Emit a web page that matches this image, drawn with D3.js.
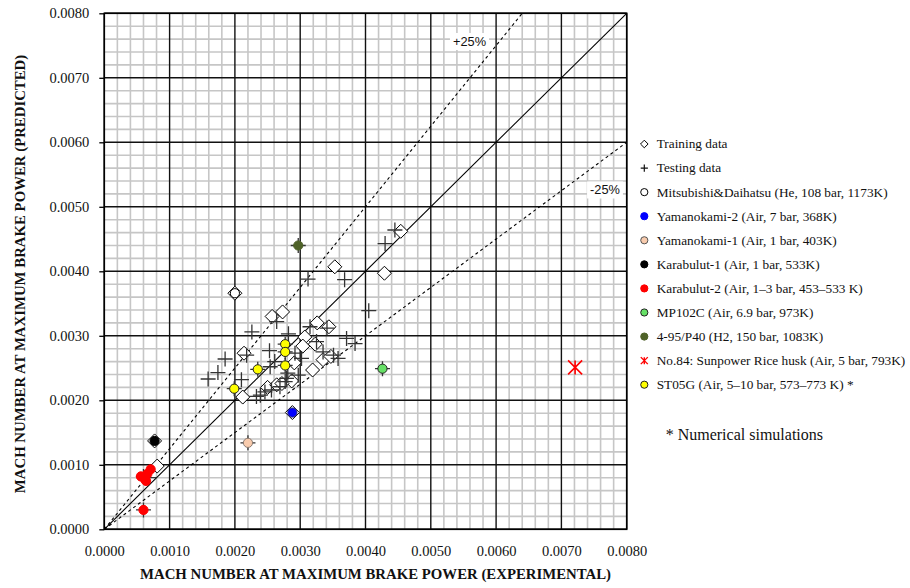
<!DOCTYPE html>
<html>
<head>
<meta charset="utf-8">
<script src="https://cdn.jsdelivr.net/npm/d3@7"></script>
<style>
  html, body { margin: 0; padding: 0; background: #fff; }
  svg { display: block; }
</style>
</head>
<body>
<svg id="chart" width="910" height="588"></svg>
<script>
// ---- data (Mach number at maximum brake power: [experimental, predicted]) ----
const majorTicks = [0, 0.001, 0.002, 0.003, 0.004, 0.005, 0.006, 0.007, 0.008];
const tickLabels = ["0.0000", "0.0010", "0.0020", "0.0030", "0.0040", "0.0050", "0.0060", "0.0070", "0.0080"];

const trainingData = [
  [0.00081, 0.00098], [0.00077, 0.00137], [0.00200, 0.00366], [0.00214, 0.00273],
  [0.00212, 0.00205], [0.00257, 0.00330], [0.00273, 0.00337], [0.00353, 0.00407],
  [0.00429, 0.00397], [0.00454, 0.00462], [0.00326, 0.00320], [0.00344, 0.00314],
  [0.00307, 0.00298], [0.00304, 0.00284], [0.00323, 0.00287], [0.00291, 0.00258],
  [0.00319, 0.00247], [0.00335, 0.00263], [0.00347, 0.00268], [0.00287, 0.00230],
  [0.00250, 0.00220], [0.00264, 0.00224], [0.00272, 0.00226], [0.00288, 0.00181]
];

const testingData = [
  [0.00312, 0.00388], [0.00368, 0.00387], [0.00405, 0.00339], [0.00264, 0.00322],
  [0.00226, 0.00306], [0.00282, 0.00303], [0.00185, 0.00264], [0.00174, 0.00243],
  [0.00159, 0.00233], [0.00210, 0.00232], [0.00253, 0.00277], [0.00218, 0.00270],
  [0.00254, 0.00252], [0.00261, 0.00260], [0.00239, 0.00208], [0.00246, 0.00213],
  [0.00233, 0.00206], [0.00256, 0.00216], [0.00269, 0.00221], [0.00277, 0.00229],
  [0.00281, 0.00242], [0.00292, 0.00273], [0.00302, 0.00265], [0.00297, 0.00239],
  [0.00335, 0.00275], [0.00351, 0.00270], [0.00371, 0.00296], [0.00384, 0.00288],
  [0.00325, 0.00291], [0.00430, 0.00443], [0.00445, 0.00464], [0.00315, 0.00314],
  [0.00341, 0.00312], [0.00358, 0.00265], [0.00279, 0.00234], [0.00220, 0.00134],
  [0.00426, 0.00249], [0.00297, 0.00440], [0.00060, 0.00030], [0.00277, 0.00287],
  [0.00277, 0.00275], [0.00235, 0.00248], [0.00277, 0.00254], [0.00199, 0.00218],
  [0.00060, 0.00082], [0.00068, 0.00080]
];

const mitsubishiDaihatsu = [[0.00200, 0.00366]];
const yamanokami2 = [[0.00288, 0.00181]];
const yamanokami1 = [[0.00220, 0.00134]];
const karabulut1 = [[0.00077, 0.00137]];
const karabulut2 = [
  [0.00056, 0.00082], [0.00062, 0.00078], [0.00066, 0.00086],
  [0.00071, 0.00093], [0.00064, 0.00075], [0.00060, 0.00030]
];
const mp102c = [[0.00426, 0.00249]];
const p40 = [[0.00297, 0.00440]];
const sunpowerRiceHusk = [[0.00721, 0.00251]];
const st05g = [
  [0.00277, 0.00287], [0.00277, 0.00275], [0.00235, 0.00248],
  [0.00277, 0.00254], [0.00199, 0.00218]
];

const legendLabels = [
  "Training data", "Testing data",
  "Mitsubishi&Daihatsu (He, 108 bar, 1173K)",
  "Yamanokami-2 (Air, 7 bar, 368K)",
  "Yamanokami-1 (Air, 1 bar, 403K)",
  "Karabulut-1 (Air, 1 bar, 533K)",
  "Karabulut-2 (Air, 1\u20133 bar, 453\u2013533 K)",
  "MP102C (Air, 6.9 bar, 973K)",
  "4-95/P40 (H2, 150 bar, 1083K)",
  "No.84: Sunpower Rice husk (Air, 5 bar, 793K)",
  "ST05G (Air, 5\u201310 bar, 573\u2013773 K) *"
];

// ---- layout ----
const svg = d3.select("#chart");
const plot = { left: 104.3, right: 626.7, top: 13.3, bottom: 529.3 };
const x = d3.scaleLinear().domain([0, 0.008]).range([plot.left, plot.right]);
const y = d3.scaleLinear().domain([0, 0.008]).range([plot.bottom, plot.top]);
const serif = "'Liberation Serif', 'DejaVu Serif', serif";
const sans = "'Liberation Sans', Arial, sans-serif";

// grid: minor every 0.0002, major every 0.001
const minorTicks = d3.range(0, 41).map(i => i * 0.0002).filter(v => Math.round(v * 10000) % 10 !== 0);
const grid = svg.append("g");
grid.selectAll("line.mx").data(minorTicks).join("line")
  .attr("x1", d => x(d)).attr("x2", d => x(d)).attr("y1", plot.top).attr("y2", plot.bottom)
  .attr("stroke", "#c6c6c6").attr("stroke-width", 1.6);
grid.selectAll("line.my").data(minorTicks).join("line")
  .attr("y1", d => y(d)).attr("y2", d => y(d)).attr("x1", plot.left).attr("x2", plot.right)
  .attr("stroke", "#c6c6c6").attr("stroke-width", 1.6);
grid.selectAll("line.Mx").data(majorTicks).join("line")
  .attr("x1", d => x(d)).attr("x2", d => x(d)).attr("y1", plot.top).attr("y2", plot.bottom)
  .attr("stroke", "#111").attr("stroke-width", 1.4);
grid.selectAll("line.My").data(majorTicks).join("line")
  .attr("y1", d => y(d)).attr("y2", d => y(d)).attr("x1", plot.left).attr("x2", plot.right)
  .attr("stroke", "#111").attr("stroke-width", 1.4);
svg.append("rect").attr("x", plot.left).attr("y", plot.top)
  .attr("width", plot.right - plot.left).attr("height", plot.bottom - plot.top)
  .attr("fill", "none").attr("stroke", "#000").attr("stroke-width", 1.6);

// axes
const yAxis = d3.axisLeft(y).tickValues(majorTicks).tickFormat((d, i) => tickLabels[i])
  .tickSize(5).tickPadding(10);
const gy = svg.append("g").attr("transform", `translate(${plot.left},0)`).call(yAxis);
const xAxis = d3.axisBottom(x).tickValues(majorTicks).tickFormat((d, i) => tickLabels[i])
  .tickSize(0).tickPadding(16);
const gx = svg.append("g").attr("transform", `translate(0,${plot.bottom})`).call(xAxis);
[gx, gy].forEach(g => {
  g.select(".domain").remove();
  g.selectAll(".tick line").attr("stroke", "#000").attr("stroke-width", 1.3);
  g.selectAll(".tick text").attr("font-family", serif).attr("font-size", 14.5).attr("fill", "#111");
});

svg.append("text").attr("x", 375.5).attr("y", 579)
  .attr("text-anchor", "middle").attr("font-family", serif).attr("font-weight", "bold")
  .attr("font-size", 14.8).attr("fill", "#111")
  .text("MACH NUMBER AT MAXIMUM BRAKE POWER (EXPERIMENTAL)");
svg.append("text").attr("transform", "translate(25,274) rotate(-90)")
  .attr("text-anchor", "middle").attr("font-family", serif).attr("font-weight", "bold")
  .attr("font-size", 14.8).attr("fill", "#111")
  .text("MACH NUMBER AT MAXIMUM BRAKE POWER (PREDICTED)");

// reference lines: 1:1 and ±25 %
const refLines = [
  { k: 1, dash: null },
  { k: 1.25, dash: "3,3" },
  { k: 0.75, dash: "3,3" }
];
refLines.forEach(r => {
  const xEnd = Math.min(0.008, 0.008 / r.k);
  svg.append("line")
    .attr("x1", x(0)).attr("y1", y(0)).attr("x2", x(xEnd)).attr("y2", y(xEnd * r.k))
    .attr("stroke", "#000").attr("stroke-width", 1.1)
    .attr("stroke-dasharray", r.dash);
});
function bandLabel(cx, cy, txt) {
  const g = svg.append("g");
  const t = g.append("text").attr("x", cx).attr("y", cy).attr("dy", "0.35em")
    .attr("text-anchor", "middle").attr("font-family", sans).attr("font-size", 12.8)
    .attr("fill", "#111").text(txt);
  const bb = t.node().getBBox();
  g.insert("rect", "text").attr("x", bb.x - 3).attr("y", bb.y - 1)
    .attr("width", bb.width + 6).attr("height", bb.height + 2).attr("fill", "#fff");
}
bandLabel(469.5, 41.5, "+25%");
bandLabel(605, 190, "-25%");

// ---- marks ----
const diamond = r => `M0,${-r}L${r},0L0,${r}L${-r},0Z`;
const plus = r => `M${-r},0H${r}M0,${-r}V${r}`;
const star = r => `M${-r},${-r}L${r},${r}M${-r},${r}L${r},${-r}M0,${-r}V${r}`;

const marks = svg.append("g");
marks.selectAll("path.train").data(trainingData).join("path")
  .attr("transform", d => `translate(${x(d[0])},${y(d[1])})`)
  .attr("d", diamond(7)).attr("fill", "#fff").attr("stroke", "#000").attr("stroke-width", 1);
marks.selectAll("path.test").data(testingData).join("path")
  .attr("transform", d => `translate(${x(d[0])},${y(d[1])})`)
  .attr("d", plus(7.5)).attr("fill", "none").attr("stroke", "#333").attr("stroke-width", 1.3);

const circleSeries = [
  { data: mitsubishiDaihatsu, fill: "#fff", stroke: "#000" },
  { data: yamanokami2, fill: "#0000ff", stroke: "#2a2a80" },
  { data: yamanokami1, fill: "#f8cbad", stroke: "#8a7a70" },
  { data: karabulut1, fill: "#000", stroke: "#000" },
  { data: karabulut2, fill: "#ff0000", stroke: "#ff0000" },
  { data: mp102c, fill: "#66e066", stroke: "#222" },
  { data: p40, fill: "#4f6228", stroke: "#4f6228" },
  { data: st05g, fill: "#ffff00", stroke: "#222" }
];
circleSeries.forEach(s => {
  marks.append("g").selectAll("circle").data(s.data).join("circle")
    .attr("cx", d => x(d[0])).attr("cy", d => y(d[1])).attr("r", 4.6)
    .attr("fill", s.fill).attr("stroke", s.stroke).attr("stroke-width", 1);
});
marks.append("g").selectAll("path").data(sunpowerRiceHusk).join("path")
  .attr("transform", d => `translate(${x(d[0])},${y(d[1])})`)
  .attr("d", star(7)).attr("fill", "none").attr("stroke", "#ff0000").attr("stroke-width", 1.6);

// ---- legend ----
const legendStyles = [
  { type: "diamond", fill: "#fff", stroke: "#000" },
  { type: "plus", stroke: "#111" },
  { type: "circle", fill: "#fff", stroke: "#000" },
  { type: "circle", fill: "#0000ff", stroke: "#0000ff" },
  { type: "circle", fill: "#f8cbad", stroke: "#555" },
  { type: "circle", fill: "#000", stroke: "#000" },
  { type: "circle", fill: "#ff0000", stroke: "#ff0000" },
  { type: "circle", fill: "#66e066", stroke: "#222" },
  { type: "circle", fill: "#4f6228", stroke: "#4f6228" },
  { type: "star", stroke: "#ff0000" },
  { type: "circle", fill: "#ffff00", stroke: "#222" }
];
const legend = svg.append("g");
const lx = 644.3, ly0 = 144, lstep = 24.07;
legendLabels.forEach((lab, i) => {
  const cy = ly0 + i * lstep;
  const st = legendStyles[i];
  const m = legend.append("g").attr("transform", `translate(${lx},${cy})`);
  if (st.type === "diamond") m.append("path").attr("d", diamond(3.8)).attr("fill", st.fill).attr("stroke", st.stroke).attr("stroke-width", 1);
  else if (st.type === "plus") m.append("path").attr("d", plus(3.6)).attr("stroke", st.stroke).attr("stroke-width", 1.2);
  else if (st.type === "star") m.append("path").attr("d", star(3.5)).attr("stroke", st.stroke).attr("stroke-width", 1.4).attr("fill", "none");
  else m.append("circle").attr("r", 3.6).attr("fill", st.fill).attr("stroke", st.stroke).attr("stroke-width", 1);
  legend.append("text").attr("x", 656.7).attr("y", cy).attr("dy", "0.33em")
    .attr("font-family", serif).attr("font-size", 13.3).attr("fill", "#111").text(lab);
});
legend.append("text").attr("x", 665.7).attr("y", 435).attr("dy", "0.33em")
  .attr("font-family", serif).attr("font-size", 16).attr("fill", "#111").text("* Numerical simulations");
</script>
</body>
</html>
